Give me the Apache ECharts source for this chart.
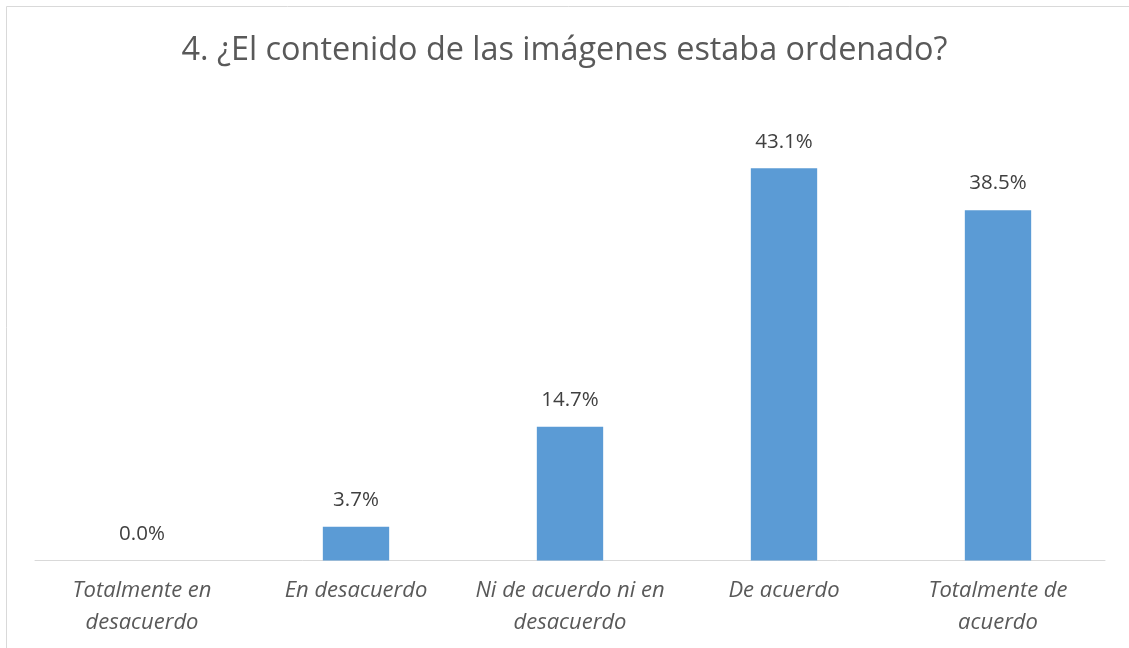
<!DOCTYPE html>
<html>
<head>
<meta charset="utf-8">
<script src="https://cdn.jsdelivr.net/npm/echarts@6/dist/echarts.min.js"></script>
<style>
  html, body { margin: 0; padding: 0; background: #fff; }
  #chart { width: 1129px; height: 648px; }
</style>
</head>
<body>
<div id="chart"></div>
<script>
// categories and percentages
const categories = [
  'Totalmente en\ndesacuerdo',
  'En desacuerdo',
  'Ni de acuerdo ni en\ndesacuerdo',
  'De acuerdo',
  'Totalmente de\nacuerdo'
]
const percents = [0.0, 3.7, 14.7, 43.1, 38.5]
const titleText = '4. ¿El contenido de las imágenes estaba ordenado?'

const chart = echarts.init(document.getElementById('chart'))

chart.setOption({
  animation: false,
  textStyle: { fontFamily: 'Open Sans' },
  title: {
    text: titleText,
    left: 'center',
    top: 30,
    textStyle: { fontSize: 32.4, fontWeight: 'normal', color: '#595959', fontFamily: 'Open Sans' }
  },
  graphic: [{
    type: 'rect',
    shape: { x: 6.5, y: 6.5, width: 1140, height: 660 },
    style: { fill: 'none', stroke: '#d9d9d9', lineWidth: 1 },
    silent: true
  }],
  grid: { left: 35, right: 24, top: 105.5, bottom: 87.5 },
  xAxis: {
    type: 'category',
    data: categories,
    axisLine: { lineStyle: { color: '#d9d9d9', width: 1 } },
    axisTick: { show: false },
    axisLabel: {
      interval: 0,
      margin: 14,
      fontSize: 22,
      fontStyle: 'italic',
      lineHeight: 32,
      color: '#595959'
    }
  },
  yAxis: {
    type: 'value',
    min: 0,
    max: 50,
    show: false,
    splitLine: { show: false }
  },
  series: [{
    type: 'bar',
    data: percents,
    barWidth: '31%',
    itemStyle: { color: '#5b9bd5' },
    label: {
      show: true,
      position: 'top',
      distance: 16,
      fontSize: 20.5,
      color: '#404040',
      formatter: p => p.value.toFixed(1) + '%'
    }
  }]
})
</script>
</body>
</html>
